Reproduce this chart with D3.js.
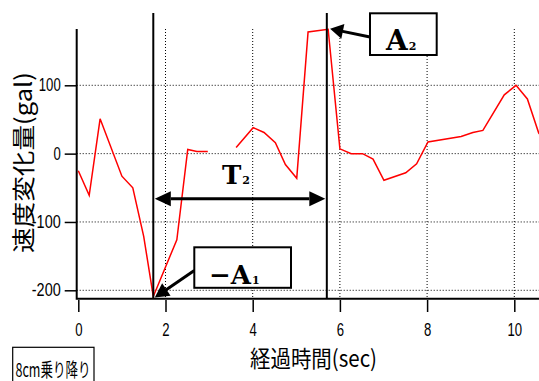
<!DOCTYPE html>
<html>
<head>
<meta charset="utf-8">
<script src="https://cdn.jsdelivr.net/npm/d3@7"></script>
<style>
  body { margin: 0; background: #fff; }
  svg { display: block; }
  .tick text { font-family: "Liberation Sans", sans-serif; font-size: 17.5px; fill: #000; }
  .tick line { stroke: #000; stroke-width: 1.5; }
</style>
</head>
<body>
<svg id="chart" width="539" height="381"></svg>
<script>
// sampled velocity change (gal) vs elapsed time (sec); null = gap in the record
const timeSec = [0, 0.25, 0.5, 1.0, 1.25, 1.5, 1.72, 2.26, 2.51, 2.72, 2.97, 3.3,
                 3.62, 4.01, 4.26, 4.52, 4.75, 5.01, 5.27, 5.73, 6.0, 6.26, 6.52, 6.76,
                 7.01, 7.51, 7.76, 8.02, 8.78, 9.05, 9.28, 9.77, 10.04, 10.3, 10.56, 10.65];
const changeGal = [-25, -61, 51, -33, -50, -121, -209, -126, 6, 3, 3, null,
                   9, 38, 31, 16, -16, -36, 178, 182, 7, 0, 0, -8,
                   -39, -28, -15, 17, 25, 31, 34, 86, 100, 80, 30, 24];

const xTicks = [0, 2, 4, 6, 8, 10];
const yTicks = [-200, -100, 0, 100];
const yTickLabels = ["-200", "-100", "0", "100"];

// annotation markers (data units)
const markerTimes = [1.72, 5.70];
const periodArrowGal = -66;
const peakA1 = [1.72, -209];
const peakA2 = [5.73, 182];

const svg = d3.select("#chart");

// --- Scales ---
const x = d3.scaleLinear().domain([0, 10]).range([78.3, 514.3]);
const y = d3.scaleLinear().domain([-200, 100]).range([290.3, 85.3]);
const frame = { left: 76.7, top: 29, right: 539, bottom: 298.7 };

// narrow look for tick numbers
function narrow(sel) {
    sel.selectAll(".tick text")
        .attr("textLength", function () {
            const s = this.textContent;
            return s.replace("-", "").length * 7.3 + (s.includes("-") ? 7 : 0);
        })
        .attr("lengthAdjust", "spacingAndGlyphs");
}

// --- Grid (dotted) ---
const grid = svg.append("g")
    .attr("stroke", "#000")
    .attr("stroke-width", 1)
    .attr("stroke-dasharray", "1,2");
grid.selectAll(".gh").data(yTicks).enter().append("line")
    .attr("x1", frame.left).attr("x2", frame.right)
    .attr("y1", d => y(d)).attr("y2", d => y(d));
grid.selectAll(".gv").data(xTicks.filter(d => d > 0)).enter().append("line")
    .attr("x1", d => x(d)).attr("x2", d => x(d))
    .attr("y1", frame.top).attr("y2", frame.bottom);

// --- Axes ---
svg.append("g")
    .attr("transform", `translate(${frame.left},0)`)
    .call(d3.axisLeft(y).tickValues(yTicks).tickSize(12).tickPadding(4)
        .tickFormat((d, i) => yTickLabels[i]))
    .call(g => g.select(".domain").remove())
    .call(narrow);

svg.append("g")
    .attr("transform", `translate(0,300)`)
    .call(d3.axisBottom(x).tickValues(xTicks).tickSize(12).tickPadding(12)
        .tickFormat(d3.format("d")))
    .call(g => g.select(".domain").remove())
    .call(narrow);

// frame lines (left and bottom)
svg.append("path")
    .attr("d", `M${frame.left},${frame.top}V${frame.bottom}H${frame.right}`)
    .attr("fill", "none")
    .attr("stroke", "#000")
    .attr("stroke-width", 2);

// --- Data line ---
svg.append("clipPath").attr("id", "plotClip")
  .append("rect")
    .attr("x", frame.left).attr("y", 0)
    .attr("width", frame.right - frame.left).attr("height", frame.bottom);

const line = d3.line()
    .defined((d, i) => changeGal[i] !== null)
    .x((d, i) => x(timeSec[i]))
    .y((d, i) => y(changeGal[i]));

svg.append("path")
    .datum(timeSec)
    .attr("clip-path", "url(#plotClip)")
    .attr("fill", "none")
    .attr("stroke", "#ff0000")
    .attr("stroke-width", 1.5)
    .attr("d", line);

// --- Marker lines ---
svg.selectAll(".marker").data(markerTimes).enter().append("line")
    .attr("x1", d => x(d)).attr("x2", d => x(d))
    .attr("y1", 13).attr("y2", frame.bottom)
    .attr("stroke", "#000").attr("stroke-width", 2);

// arrow helper: line plus filled head at (x2,y2)
function arrowHead(g, x1, y1, x2, y2, len, half) {
    const a = Math.atan2(y2 - y1, x2 - x1);
    const bx = x2 - len * Math.cos(a), by = y2 - len * Math.sin(a);
    const px = -Math.sin(a) * half, py = Math.cos(a) * half;
    g.append("path")
        .attr("d", `M${x2},${y2}L${bx + px},${by + py}L${bx - px},${by - py}Z`)
        .attr("fill", "#000");
    return [bx, by];
}
function arrow(g, x1, y1, x2, y2, len, half, w) {
    const [bx, by] = arrowHead(g, x1, y1, x2, y2, len, half);
    g.append("line")
        .attr("x1", x1).attr("y1", y1).attr("x2", bx + (x2 - bx) * 0.2).attr("y2", by + (y2 - by) * 0.2)
        .attr("stroke", "#000").attr("stroke-width", w);
}

const ann = svg.append("g");

// T2 double arrow
const ty = y(periodArrowGal);
const tx1 = x(markerTimes[0]) + 1.5, tx2 = x(markerTimes[1]) - 1.5;
const b1 = arrowHead(ann, tx2, ty, tx1, ty, 16, 7.5);
const b2 = arrowHead(ann, tx1, ty, tx2, ty, 16, 7.5);
ann.append("line")
    .attr("x1", b1[0]).attr("x2", b2[0]).attr("y1", ty).attr("y2", ty)
    .attr("stroke", "#000").attr("stroke-width", 3);

const serif = "'DejaVu Serif', serif";
const t2 = ann.append("text")
    .attr("x", 222).attr("y", 184)
    .attr("font-family", serif).attr("font-weight", "bold").attr("font-size", 26);
t2.append("tspan").text("T");
t2.append("tspan").attr("font-size", 11).attr("dx", 1).text("2");

// A2 box + arrow
ann.append("rect")
    .attr("x", 370).attr("y", 13.3).attr("width", 66.7).attr("height", 41.7)
    .attr("fill", "#fff").attr("stroke", "#000").attr("stroke-width", 2);
const a2 = ann.append("text")
    .attr("x", 386).attr("y", 50)
    .attr("font-family", serif).attr("font-weight", "bold").attr("font-size", 28);
a2.append("tspan").text("A");
a2.append("tspan").attr("font-size", 11).attr("dx", 1).text("2");
arrow(ann, 370, 37, x(peakA2[0]) + 2, y(peakA2[1]) - 0.5, 13, 7.5, 3);

// -A1 box + arrow
ann.append("rect")
    .attr("x", 194.3).attr("y", 247.3).attr("width", 96.7).attr("height", 40.5)
    .attr("fill", "#fff").attr("stroke", "#000").attr("stroke-width", 2);
const a1 = ann.append("text")
    .attr("x", 209).attr("y", 283.5)
    .attr("font-family", serif).attr("font-weight", "bold").attr("font-size", 26);
a1.append("tspan").text("\u2212A");
a1.append("tspan").attr("font-size", 11).attr("dx", 1).text("1");
arrow(ann, 194.3, 270.5, x(peakA1[0]) + 1.5, y(peakA1[1]) + 1, 14, 7.5, 3);

// --- Axis titles ---
const jp = "'Noto Sans CJK JP', sans-serif";
svg.append("text")
    .attr("transform", "translate(32,162.5) rotate(-90)")
    .attr("text-anchor", "middle")
    .attr("font-family", jp).attr("font-size", 23)
    .attr("textLength", 181).attr("lengthAdjust", "spacingAndGlyphs")
    .text("速度変化量(gal)");

svg.append("text")
    .attr("x", 313.5).attr("y", 367)
    .attr("text-anchor", "middle")
    .attr("font-family", jp).attr("font-size", 23)
    .attr("textLength", 127).attr("lengthAdjust", "spacingAndGlyphs")
    .text("経過時間(sec)");

// --- Caption box ---
svg.append("rect")
    .attr("x", 12.7).attr("y", 347.3).attr("width", 81.3).attr("height", 40)
    .attr("fill", "none").attr("stroke", "#000").attr("stroke-width", 1.2);
svg.append("text")
    .attr("x", 15.5).attr("y", 377)
    .attr("font-family", jp).attr("font-size", 19)
    .attr("textLength", 75).attr("lengthAdjust", "spacingAndGlyphs")
    .text("8cm乗り降り");
</script>
</body>
</html>
